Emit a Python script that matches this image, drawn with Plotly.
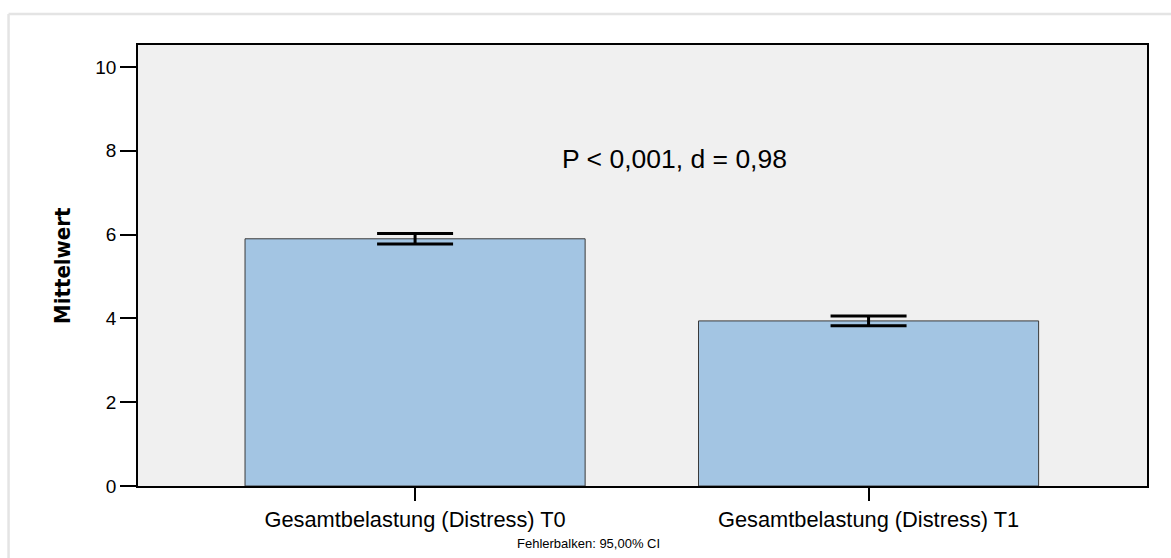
import plotly.graph_objects as go

# Mean distress scores at two time points with 95% CI half-widths
categories = ["Gesamtbelastung (Distress) T0", "Gesamtbelastung (Distress) T1"]
means = [5.90, 3.94]
ci_half = [0.125, 0.115]
y_ticks = [0, 2, 4, 6, 8, 10]

SANS = "Liberation Sans, Arial, sans-serif"
NARROW = "Liberation Sans Narrow, Arial Narrow, DejaVu Sans Condensed, sans-serif"

fig = go.Figure()
fig.add_trace(go.Bar(
    x=[0, 1],
    y=means,
    width=0.75,
    marker=dict(color="#a3c5e3", line=dict(color="#3a3a3a", width=1)),
    error_y=dict(type="data", array=ci_half, visible=True,
                 color="black", thickness=3, width=38),
    showlegend=False,
))

fig.update_layout(
    width=1171, height=558,
    margin=dict(l=138, r=24, t=45, b=72),
    paper_bgcolor="white",
    plot_bgcolor="#f0f0f0",
    xaxis=dict(
        range=[-0.611, 1.614],
        tickmode="array", tickvals=[0, 1], ticktext=categories,
        ticks="outside", ticklen=13, tickwidth=2, tickcolor="black",
        showline=True, linecolor="black", linewidth=1.5, mirror=True,
        showgrid=False, zeroline=False,
        tickfont=dict(family=SANS, size=21.8, color="black"),
    ),
    yaxis=dict(
        range=[0, 10.525],
        tickmode="array", tickvals=y_ticks,
        ticks="outside", ticklen=16, tickwidth=2, tickcolor="black",
        showline=True, linecolor="black", linewidth=1.5, mirror=True,
        showgrid=False, zeroline=False,
        tickfont=dict(family=SANS, size=19, color="black"),
    ),
    shapes=[
        # light outer frame around the chart
        dict(type="line", xref="paper", yref="paper",
             x0=-0.1283, x1=1.03, y0=1.0703, y1=1.0703,
             line=dict(color="#e4e4e4", width=2.5)),
        dict(type="line", xref="paper", yref="paper",
             x0=-0.1283, x1=-0.1283, y0=1.0703, y1=-0.2,
             line=dict(color="#e4e4e4", width=2.5)),
    ],
    annotations=[
        dict(text="P < 0,001, d = 0,98", x=0.573, y=7.80, xref="x", yref="y",
             xanchor="center", yanchor="middle", showarrow=False,
             font=dict(family=SANS, size=26.5, color="black")),
        dict(text="<b>Mittelwert</b>", x=-0.0748, y=0.5, xref="paper", yref="paper",
             textangle=-90, xanchor="center", yanchor="middle", showarrow=False,
             font=dict(family=NARROW, size=22, color="black")),
        dict(text="Fehlerbalken: 95,00% CI", x=(515 - 138) / 1009, y=-0.1315,
             xref="paper", yref="paper",
             xanchor="left", yanchor="middle", showarrow=False,
             font=dict(family=SANS, size=13, color="black")),
    ],
)

fig.write_html("out.html")
